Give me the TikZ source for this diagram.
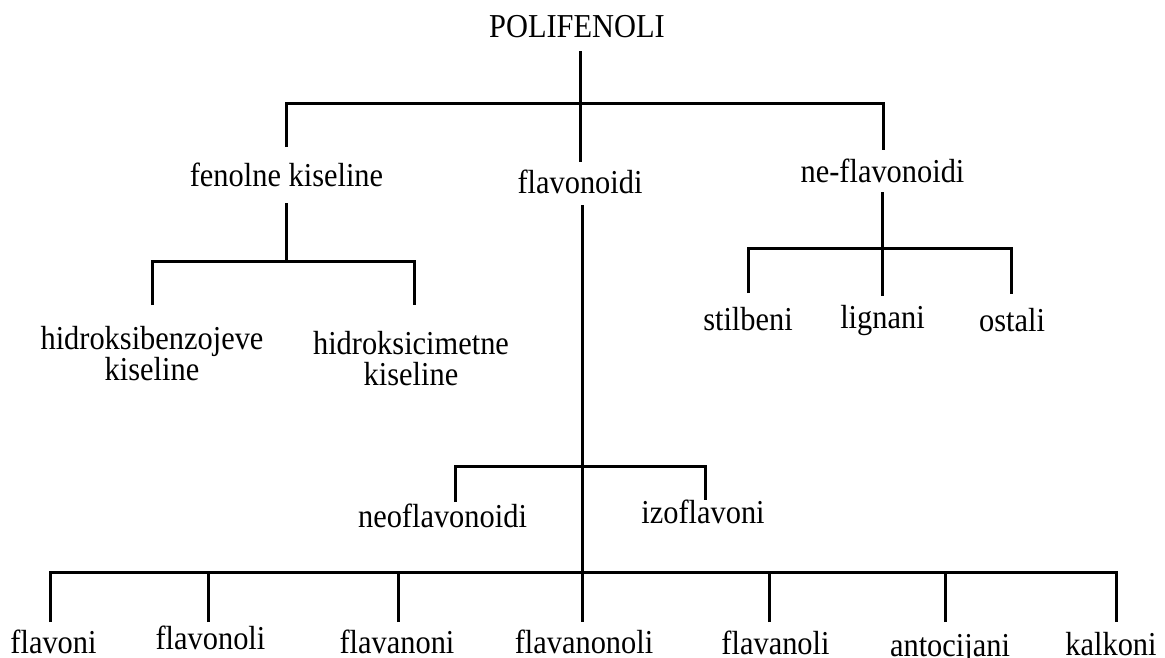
\documentclass[tikz,border=0pt]{standalone}
\usepackage{graphicx}
\usepackage{fontspec}
\setmainfont{Liberation Serif}
\newcommand\tallt[1]{\scalebox{1}[1.1]{#1}}
\begin{document}
\begin{tikzpicture}[x=1pt,y=-1pt,
  lbl/.style={anchor=base,inner sep=0pt,font=\fontsize{30.4}{25.5}\selectfont},
  conn/.style={line width=3pt,line join=miter,line cap=butt}]
\useasboundingbox (0,0) rectangle (1165,657);
% labels
\node[lbl] (poli) at (577,37) {\tallt{POLIFENOLI}};
\node[lbl] (fen) at (286.5,186) {\tallt{fenolne kiseline}};
\node[lbl] (flav) at (580,193) {\tallt{flavonoidi}};
\node[lbl] (nef) at (882.5,182) {\tallt{ne-flavonoidi}};
\node[lbl] (hb) at (152,349) {\tallt{\begin{tabular}[t]{@{}c@{}}hidroksibenzojeve\\kiseline\end{tabular}}};
\node[lbl] (hc) at (411,354) {\tallt{\begin{tabular}[t]{@{}c@{}}hidroksicimetne\\kiseline\end{tabular}}};
\node[lbl] (st) at (748,330) {\tallt{stilbeni}};
\node[lbl] (lig) at (882.5,328) {\tallt{lignani}};
\node[lbl] (os) at (1012,331) {\tallt{ostali}};
\node[lbl] (neo) at (442.5,527) {\tallt{neoflavonoidi}};
\node[lbl] (izo) at (703,523) {\tallt{izoflavoni}};
\node[lbl] (fv) at (53.5,653) {\tallt{flavoni}};
\node[lbl] (fvl) at (210.5,649) {\tallt{flavonoli}};
\node[lbl] (fan) at (397,653) {\tallt{flavanoni}};
\node[lbl] (fanl) at (584,653) {\tallt{flavanonoli}};
\node[lbl] (fal) at (775.5,654) {\tallt{flavanoli}};
\node[lbl] (ant) at (950,656) {\tallt{antocijani}};
\node[lbl] (kal) at (1111,655) {\tallt{kalkoni}};
% connector end points
\coordinate (poliS) at (580,51);
\coordinate (flavN) at (580,162);
\coordinate (bar1) at (580,103);
\coordinate (fenN) at (286,147);
\coordinate (nefN) at (883,150);
\coordinate (fenS) at (286,203);
\coordinate (bar2) at (286,261);
\coordinate (hbN) at (152,305);
\coordinate (hcN) at (414,305);
\coordinate (flavS) at (582,205);
\coordinate (fanlN) at (582,622);
\coordinate (bar3) at (582,466);
\coordinate (neoN) at (455,502);
\coordinate (izoN) at (705,500);
\coordinate (bar4) at (582,572);
\coordinate (fvN) at (50,622);
\coordinate (fvlN) at (208,622);
\coordinate (fanN) at (398,622);
\coordinate (falN) at (769,622);
\coordinate (antN) at (945,622);
\coordinate (kalN) at (1116,622);
\coordinate (nefS) at (882,192);
\coordinate (bar5) at (882,248);
\coordinate (stN) at (748,293);
\coordinate (ligN) at (882,296);
\coordinate (osN) at (1011,294);
% connectors
\draw[conn] (poliS) -- (flavN);
\draw[conn] (fenN) |- (bar1) -| (nefN);
\draw[conn] (fenS) -- (bar2);
\draw[conn] (hbN) |- (bar2) -| (hcN);
\draw[conn] (flavS) -- (fanlN);
\draw[conn] (neoN) |- (bar3) -| (izoN);
\draw[conn] (fvN) |- (bar4) -| (kalN);
\draw[conn] (fvlN) -- (fvlN |- bar4);
\draw[conn] (fanN) -- (fanN |- bar4);
\draw[conn] (falN) -- (falN |- bar4);
\draw[conn] (antN) -- (antN |- bar4);
\draw[conn] (nefS) -- (ligN);
\draw[conn] (stN) |- (bar5) -| (osN);
\end{tikzpicture}
\end{document}
